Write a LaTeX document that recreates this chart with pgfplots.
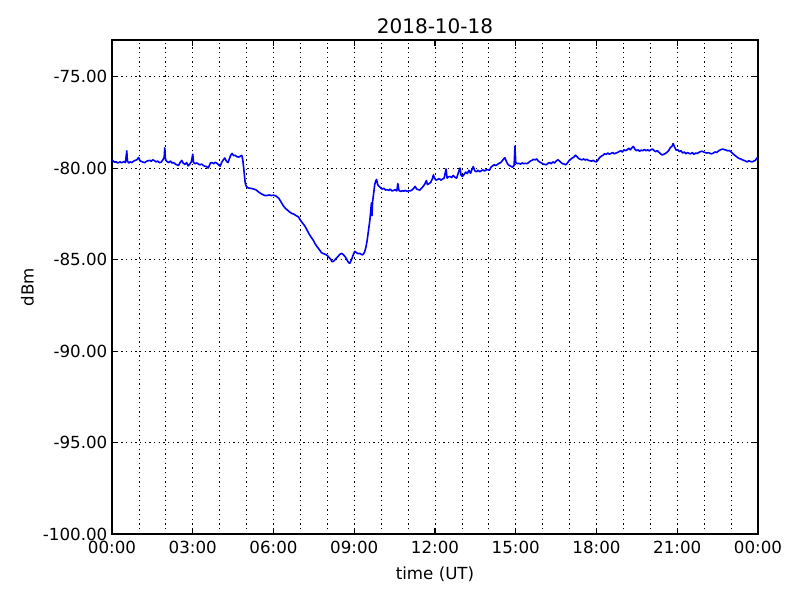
\documentclass[border=0pt]{standalone}
\usepackage{fontspec}
\setmainfont{DejaVu Sans}
\usepackage{pgfplots}
\pgfplotsset{compat=1.18}

% signal level over one day, hours UT vs dBm
\pgfplotstableread{
h dbm
0.00 -79.55
0.05 -79.62
0.10 -79.68
0.15 -79.65
0.20 -79.72
0.25 -79.70
0.30 -79.66
0.35 -79.71
0.40 -79.68
0.45 -79.64
0.50 -79.70
0.55 -79.06
0.57 -79.60
0.62 -79.72
0.68 -79.66
0.74 -79.70
0.80 -79.62
0.86 -79.58
0.92 -79.55
0.99 -79.42
1.04 -79.60
1.10 -79.64
1.16 -79.68
1.22 -79.70
1.28 -79.63
1.34 -79.60
1.40 -79.58
1.46 -79.62
1.52 -79.55
1.58 -79.60
1.64 -79.66
1.70 -79.62
1.76 -79.70
1.82 -79.68
1.88 -79.58
1.94 -79.40
1.96 -78.90
1.99 -79.55
2.05 -79.65
2.11 -79.70
2.17 -79.62
2.23 -79.72
2.29 -79.70
2.35 -79.78
2.41 -79.82
2.47 -79.86
2.53 -79.70
2.59 -79.58
2.65 -79.74
2.71 -79.80
2.77 -79.70
2.83 -79.88
2.89 -79.78
2.95 -79.65
3.00 -79.24
3.03 -79.70
3.09 -79.76
3.15 -79.72
3.21 -79.78
3.27 -79.82
3.33 -79.78
3.39 -79.86
3.45 -79.90
3.51 -79.92
3.57 -80.00
3.62 -79.85
3.66 -79.72
3.72 -79.70
3.78 -79.76
3.84 -79.68
3.90 -79.74
3.96 -79.82
4.02 -79.90
4.07 -79.70
4.13 -79.56
4.19 -79.45
4.25 -79.62
4.31 -79.70
4.36 -79.50
4.41 -79.30
4.46 -79.20
4.52 -79.32
4.58 -79.30
4.64 -79.38
4.70 -79.40
4.76 -79.36
4.82 -79.30
4.86 -79.55
4.89 -79.95
4.92 -80.40
4.95 -80.82
4.99 -81.00
5.05 -81.08
5.12 -81.10
5.20 -81.12
5.28 -81.15
5.36 -81.20
5.44 -81.30
5.52 -81.38
5.60 -81.45
5.68 -81.50
5.76 -81.50
5.84 -81.47
5.92 -81.50
6.00 -81.48
6.08 -81.52
6.14 -81.58
6.20 -81.66
6.28 -81.85
6.36 -82.05
6.44 -82.20
6.52 -82.30
6.60 -82.40
6.68 -82.48
6.76 -82.52
6.84 -82.60
6.92 -82.66
6.98 -82.80
7.05 -82.95
7.12 -83.08
7.18 -83.20
7.25 -83.40
7.32 -83.60
7.40 -83.78
7.48 -83.95
7.55 -84.15
7.62 -84.30
7.70 -84.45
7.78 -84.62
7.86 -84.68
7.94 -84.72
8.00 -84.78
8.06 -84.88
8.12 -84.98
8.18 -85.12
8.24 -85.08
8.30 -84.98
8.38 -84.86
8.46 -84.72
8.53 -84.66
8.60 -84.74
8.68 -84.88
8.74 -85.05
8.80 -85.18
8.84 -85.20
8.90 -85.00
8.96 -84.75
9.02 -84.55
9.08 -84.62
9.14 -84.68
9.20 -84.66
9.26 -84.72
9.32 -84.74
9.38 -84.60
9.43 -84.35
9.48 -83.95
9.53 -83.40
9.58 -82.85
9.62 -82.20
9.64 -81.90
9.66 -82.60
9.68 -81.85
9.72 -81.40
9.76 -80.90
9.80 -80.70
9.83 -80.62
9.87 -80.90
9.92 -81.00
9.98 -81.08
10.04 -81.15
10.10 -81.10
10.16 -81.20
10.22 -81.18
10.28 -81.22
10.34 -81.15
10.40 -81.25
10.46 -81.22
10.52 -81.18
10.58 -81.25
10.62 -80.85
10.66 -81.22
10.72 -81.28
10.78 -81.24
10.84 -81.26
10.90 -81.22
10.96 -81.28
11.02 -81.24
11.08 -81.25
11.14 -81.20
11.20 -81.12
11.26 -81.00
11.32 -81.15
11.38 -81.18
11.44 -81.20
11.50 -81.10
11.56 -81.00
11.62 -80.88
11.68 -80.68
11.72 -80.90
11.78 -80.85
11.84 -80.78
11.90 -80.60
11.94 -80.37
11.98 -80.55
12.04 -80.66
12.10 -80.62
12.16 -80.58
12.22 -80.66
12.28 -80.60
12.34 -80.55
12.41 -80.05
12.45 -80.55
12.50 -80.48
12.56 -80.46
12.62 -80.52
12.68 -80.40
12.74 -80.50
12.80 -80.55
12.86 -80.30
12.90 -80.10
12.93 -80.00
12.97 -80.40
13.02 -80.46
13.08 -80.35
13.14 -80.22
13.20 -80.30
13.26 -80.12
13.32 -80.28
13.38 -80.05
13.42 -79.92
13.48 -80.15
13.54 -80.20
13.60 -80.12
13.66 -80.20
13.72 -80.15
13.78 -80.10
13.84 -80.16
13.90 -80.10
13.96 -80.08
14.02 -80.12
14.08 -79.95
14.14 -79.88
14.20 -79.82
14.26 -79.86
14.32 -79.80
14.38 -79.74
14.44 -79.70
14.50 -79.60
14.56 -79.48
14.60 -79.44
14.64 -79.60
14.70 -79.78
14.76 -79.86
14.82 -79.90
14.88 -79.95
14.94 -79.85
14.97 -78.80
15.00 -79.70
15.06 -79.76
15.12 -79.74
15.18 -79.78
15.24 -79.72
15.30 -79.76
15.36 -79.74
15.42 -79.76
15.48 -79.70
15.54 -79.62
15.60 -79.58
15.66 -79.52
15.72 -79.55
15.78 -79.50
15.84 -79.62
15.90 -79.68
15.96 -79.72
16.02 -79.78
16.08 -79.80
16.14 -79.82
16.20 -79.74
16.26 -79.70
16.32 -79.76
16.38 -79.66
16.44 -79.72
16.50 -79.62
16.56 -79.55
16.62 -79.60
16.68 -79.70
16.74 -79.76
16.80 -79.78
16.86 -79.82
16.92 -79.72
16.98 -79.60
17.04 -79.52
17.10 -79.45
17.16 -79.40
17.22 -79.30
17.28 -79.38
17.34 -79.48
17.40 -79.52
17.46 -79.55
17.52 -79.50
17.58 -79.56
17.64 -79.52
17.70 -79.58
17.76 -79.60
17.82 -79.62
17.88 -79.58
17.94 -79.64
18.00 -79.66
18.06 -79.55
18.12 -79.42
18.18 -79.35
18.24 -79.30
18.30 -79.22
18.36 -79.25
18.42 -79.18
18.48 -79.24
18.54 -79.20
18.60 -79.15
18.66 -79.22
18.72 -79.18
18.78 -79.15
18.84 -79.10
18.90 -79.05
18.96 -79.12
19.02 -79.00
19.08 -79.05
19.14 -79.00
19.20 -78.92
19.26 -79.00
19.32 -78.88
19.37 -78.82
19.42 -78.95
19.48 -79.05
19.54 -79.00
19.60 -79.08
19.66 -79.02
19.72 -79.05
19.78 -78.98
19.84 -79.05
19.90 -79.00
19.96 -79.06
20.02 -79.00
20.08 -78.96
20.14 -79.05
20.20 -79.10
20.26 -79.05
20.32 -79.14
20.38 -79.22
20.44 -79.28
20.50 -79.25
20.56 -79.20
20.62 -79.14
20.68 -79.05
20.74 -78.88
20.80 -78.82
20.85 -78.66
20.90 -78.85
20.96 -79.02
21.02 -79.00
21.08 -79.10
21.14 -79.05
21.20 -79.18
21.26 -79.12
21.32 -79.22
21.38 -79.15
21.44 -79.20
21.50 -79.22
21.56 -79.15
21.62 -79.25
21.68 -79.18
21.74 -79.20
21.80 -79.15
21.86 -79.10
21.92 -79.08
21.98 -79.12
22.04 -79.15
22.10 -79.18
22.16 -79.15
22.22 -79.20
22.28 -79.22
22.34 -79.18
22.40 -79.12
22.46 -79.15
22.52 -79.08
22.58 -79.02
22.64 -78.98
22.70 -78.96
22.76 -79.00
22.82 -79.02
22.88 -79.06
22.94 -79.04
23.00 -79.12
23.06 -79.20
23.12 -79.28
23.18 -79.35
23.24 -79.42
23.30 -79.48
23.36 -79.50
23.42 -79.55
23.48 -79.58
23.54 -79.62
23.60 -79.66
23.66 -79.60
23.72 -79.64
23.78 -79.66
23.84 -79.62
23.90 -79.58
23.96 -79.45
24.00 -79.42
}\signal

\begin{document}
\begin{tikzpicture}
\path[use as bounding box] (-84pt,-49.5pt) rectangle (516pt,400.5pt);
\begin{axis}[
  at={(0,0)}, anchor=south west,
  scale only axis, width=484.5pt, height=370.5pt,
  xmin=0, xmax=24, ymin=-100, ymax=-73,
  xtick={0,3,...,24},
  xticklabels={00:00,03:00,06:00,09:00,12:00,15:00,18:00,21:00,00:00},
  minor x tick num=2,
  minor y tick num=0,
  ytick={-100,-95,...,-75},
  yticklabels={-100.00,-95.00,-90.00,-85.00,-80.00,-75.00},
  xmajorgrids=true, xminorgrids=true, ymajorgrids=true, yminorgrids=false,
  major grid style={black, line width=0.6pt, dash pattern=on 1pt off 2.5pt},
  minor grid style={black, line width=0.6pt, dash pattern=on 1pt off 2.5pt},
  tick align=inside, major tick length=4.2pt, minor tick length=0pt,
  major tick style={black, line width=0.8pt},
  axis line style={black, line width=1pt},
  tick label style={font=\fontsize{12.5}{15}\selectfont},
  xticklabel style={yshift=-2pt},
  label style={font=\fontsize{12.5}{15}\selectfont},
  xlabel style={yshift=-3pt},
  title style={font=\fontsize{15}{18}\selectfont, yshift=-5pt},
  title={2018-10-18},
  xlabel={time (UT)},
  ylabel={dBm},
]
\addplot[blue, line width=1.2pt, line join=round] table[x=h, y=dbm] {\signal};
\end{axis}
\end{tikzpicture}
\end{document}
